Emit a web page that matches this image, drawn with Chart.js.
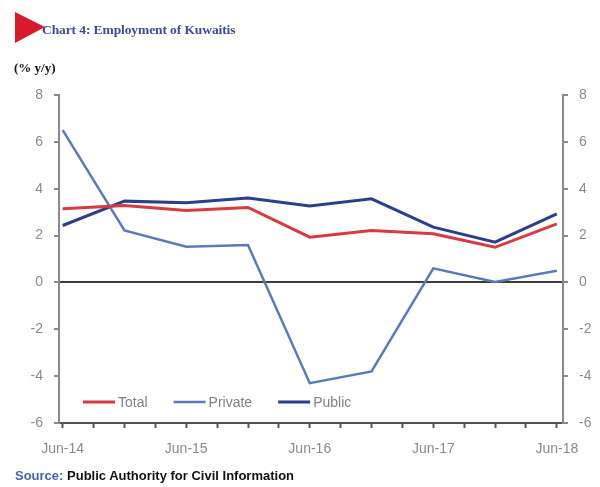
<!DOCTYPE html>
<html>
<head>
<meta charset="utf-8">
<script src="https://cdn.jsdelivr.net/npm/chart.js@4"></script>
<style>
  body { margin: 0; background: #fff; }
  #wrap { position: relative; width: 600px; height: 487px; overflow: hidden; }
  #chart { position: absolute; left: 0; top: 0; }
  .tri { position: absolute; left: 15px; top: 12px; width: 0; height: 0;
         border-top: 15px solid transparent; border-bottom: 16px solid transparent;
         border-left: 30px solid #d81b2c; }
  .title { position: absolute; left: 42px; top: 22px; font: bold 13.5px "Liberation Serif", serif;
           color: #3d4c9c; letter-spacing: -0.1px; }
  .unit { position: absolute; left: 14px; top: 60px; font: bold 13px "Liberation Serif", serif; color: #111; }
  .source { position: absolute; left: 15px; top: 468px; font: bold 13px "Liberation Sans Narrow", "Liberation Sans", Arial, sans-serif; color: #111; }
  .source span { color: #4563b3; }
</style>
</head>
<body>
<div id="wrap">
  <canvas id="chart" width="600" height="487"></canvas>
  <div class="tri"></div>
  <div class="title">Chart 4: Employment of Kuwaitis</div>
  <div class="unit">(% y/y)</div>
  <div class="source"><span>Source:</span> Public Authority for Civil Information</div>
</div>
<script>
// quarterly axis, labels shown once a year
const quarters = ['Jun-14', 'Sep-14', 'Dec-14', 'Mar-15', 'Jun-15', 'Sep-15', 'Dec-15', 'Mar-16',
                  'Jun-16', 'Sep-16', 'Dec-16', 'Mar-17', 'Jun-17', 'Sep-17', 'Dec-17', 'Mar-18', 'Jun-18'];
// data is half-yearly
const periods = ['Jun-14', 'Dec-14', 'Jun-15', 'Dec-15', 'Jun-16', 'Dec-16', 'Jun-17', 'Dec-17', 'Jun-18'];
const totalVals   = [3.15, 3.28, 3.07, 3.20, 1.93, 2.22, 2.08, 1.50, 2.50];
const privateVals = [6.50, 2.22, 1.52, 1.60, -4.30, -3.80, 0.60, 0.02, 0.50];
const publicVals  = [2.43, 3.47, 3.40, 3.60, 3.26, 3.57, 2.36, 1.72, 2.93];
const yTicks = [-6, -4, -2, 0, 2, 4, 6, 8];

const toPoints = vals => vals.map((v, i) => ({ x: quarters.indexOf(periods[i]), y: v }));

const tickFont = { family: 'Arial, "Liberation Sans", sans-serif', size: 14 };
const grey = '#8a8a8a';

// legend drawn inside the plot, near the bottom
const innerLegend = {
    id: 'innerLegend',
    afterDraw(chart) {
        const c = chart.ctx;
        let x = 83;
        const y = 402;
        c.save();
        c.font = '14px Arial, "Liberation Sans", sans-serif';
        c.textBaseline = 'middle';
        chart.data.datasets.forEach(ds => {
            c.strokeStyle = ds.borderColor;
            c.lineWidth = ds.borderWidth;
            c.beginPath();
            c.moveTo(x, y);
            c.lineTo(x + 32, y);
            c.stroke();
            c.fillStyle = '#7f7f7f';
            c.fillText(ds.label, x + 35, y + 1);
            x += 35 + c.measureText(ds.label).width + 26;
        });
        c.restore();
    }
};

const yScale = (position) => ({
    type: 'linear',
    position: position,
    min: -6,
    max: 8,
    afterBuildTicks: s => { s.ticks = yTicks.map(v => ({ value: v })); },
    afterFit: s => { s.width = position === 'left' ? 59 : 37; },
    border: { color: grey, width: 2 },
    grid: {
        drawOnChartArea: position === 'left',
        color: ctx => (ctx.tick && ctx.tick.value === 0) ? '#3a3a3a' : 'rgba(0,0,0,0)',
        lineWidth: 2,
        tickColor: grey,
        tickLength: 5,
        tickWidth: 2
    },
    ticks: { color: grey, font: tickFont, padding: 11 }
});

new Chart(document.getElementById('chart'), {
    type: 'line',
    data: {
        datasets: [
            { label: 'Total', data: toPoints(totalVals), borderColor: '#d93a42', borderWidth: 3, yAxisID: 'y' },
            { label: 'Private', data: toPoints(privateVals), borderColor: '#5b79bd', borderWidth: 2.5, yAxisID: 'y' },
            { label: 'Public', data: toPoints(publicVals), borderColor: '#2b3f8c', borderWidth: 3, yAxisID: 'y' }
        ]
    },
    options: {
        responsive: false,
        animation: false,
        layout: { padding: { top: 95, left: 0, right: 0, bottom: 0 } },
        elements: { point: { radius: 0 }, line: { tension: 0 } },
        plugins: { legend: { display: false }, tooltip: { enabled: false } },
        scales: {
            x: {
                type: 'linear',
                min: -0.12,
                max: 16.2,
                afterBuildTicks: s => { s.ticks = quarters.map((q, i) => ({ value: i })); },
                afterFit: s => { s.height = 64; },
                border: { color: '#555', width: 2 },
                grid: { drawOnChartArea: false, tickColor: '#555', tickLength: 5, tickWidth: 2 },
                ticks: {
                    autoSkip: false,
                    maxRotation: 0,
                    color: grey,
                    font: tickFont,
                    padding: 13,
                    callback: v => (v % 4 === 0 ? quarters[v] : '')
                }
            },
            y: yScale('left'),
            y2: yScale('right')
        }
    },
    plugins: [innerLegend]
});
</script>
</body>
</html>
